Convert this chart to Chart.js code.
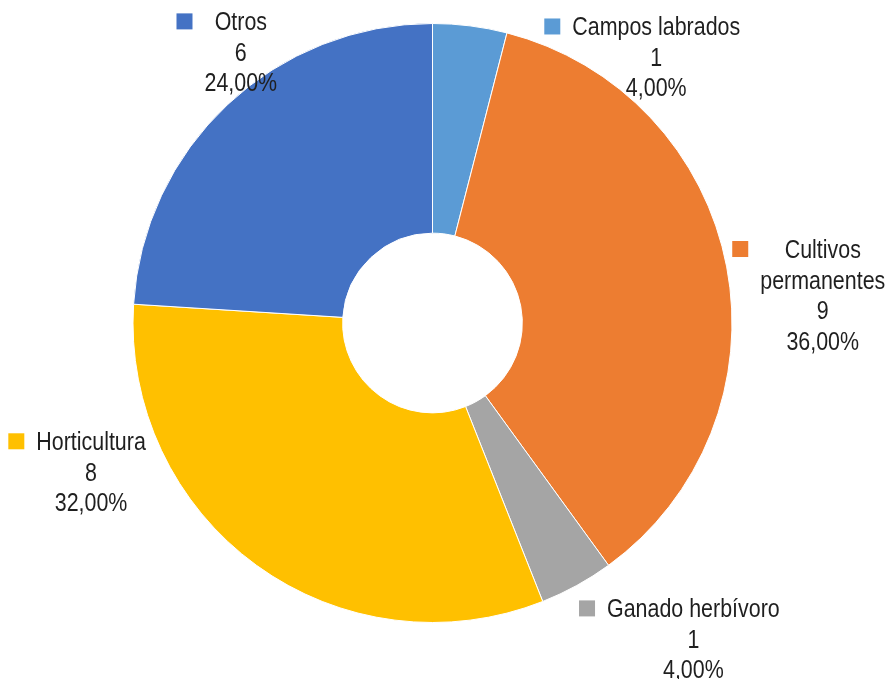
<!DOCTYPE html>
<html>
<head>
<meta charset="utf-8">
<script src="https://cdn.jsdelivr.net/npm/chart.js@4/dist/chart.umd.min.js"></script>
<style>
  html, body { margin: 0; padding: 0; background: #fff; }
  #wrap { width: 887px; height: 679px; }
</style>
</head>
<body>
<div id="wrap"><canvas id="pie-chart"></canvas></div>
<script>
const categories = ['Campos labrados', ['Cultivos', 'permanentes'], 'Ganado herbívoro', 'Horticultura', 'Otros'];
const values = [1, 9, 1, 8, 6];
const colors = ['#5B9BD5', '#ED7D31', '#A5A5A5', '#FFC000', '#4472C4'];

// where each data label sits, relative to the pie centre, in units of the outer radius
const labelAnchors = [
    [0.747, -0.960],
    [1.303, -0.217],
    [0.871, 0.983],
    [-1.140, 0.425],
    [-0.640, -0.977]
];

// no Arial Narrow here, so squeeze Liberation Sans horizontally
const FONT = '25.5px "Liberation Sans", Arial, sans-serif';
const NARROW = 0.84;

const labelPlugin = {
    id: 'sliceLabels',
    afterDatasetsDraw(chart) {
        const ctx = chart.ctx;
        const meta = chart.getDatasetMeta(0);
        const total = values.reduce((a, b) => a + b, 0);
        const lineH = 30.5;
        ctx.save();
        ctx.font = FONT;
        ctx.textAlign = 'center';
        ctx.textBaseline = 'alphabetic';
        meta.data.forEach((arc, i) => {
            const name = Array.isArray(categories[i]) ? categories[i] : [categories[i]];
            const pct = (values[i] / total * 100).toFixed(2).replace('.', ',') + '%';
            const lines = name.concat([String(values[i]), pct]);
            const cx = arc.x + labelAnchors[i][0] * arc.outerRadius;
            const cy = arc.y + labelAnchors[i][1] * arc.outerRadius;
            const maxW = Math.max(...lines.map(l => ctx.measureText(l).width)) * NARROW;
            ctx.fillStyle = '#1f1f1f';
            lines.forEach((l, k) => {
                ctx.save();
                ctx.translate(cx, cy + k * lineH);
                ctx.scale(NARROW, 1);
                ctx.fillText(l, 0, 0);
                ctx.restore();
            });
            // legend key to the left of the label block
            ctx.fillStyle = colors[i];
            ctx.fillRect(cx - maxW / 2 - 12 - 16, cy - 17, 16, 16);
        });
        ctx.restore();
    }
};

const ctx = document.getElementById('pie-chart').getContext('2d');
const pieChart = new Chart(ctx, {
    type: 'doughnut',
    data: {
        labels: categories,
        datasets: [{
            data: values,
            backgroundColor: colors,
            borderColor: '#ffffff',
            borderWidth: 1
        }]
    },
    options: {
        responsive: true,
        maintainAspectRatio: false,
        animation: false,
        cutout: '30%',
        layout: {
            padding: { top: 23, bottom: 56, left: 0, right: 22 }
        },
        plugins: {
            legend: { display: false },
            tooltip: { enabled: false }
        }
    },
    plugins: [labelPlugin]
});
</script>
</body>
</html>
